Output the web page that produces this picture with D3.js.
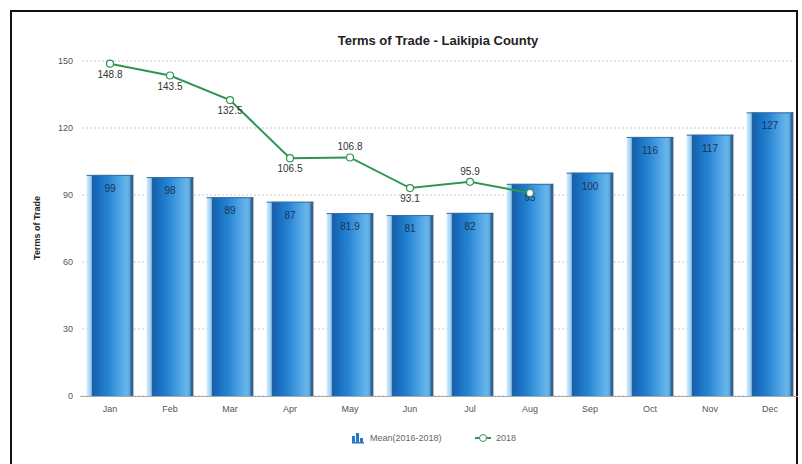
<!DOCTYPE html>
<html>
<head>
<meta charset="utf-8">
<script src="https://cdn.jsdelivr.net/npm/d3@7"></script>
<style>
  body { margin: 0; background: #fff; }
  text { font-family: "Liberation Sans", Arial, sans-serif; }
</style>
</head>
<body>
<script>
// chart data
var months = ["Jan", "Feb", "Mar", "Apr", "May", "Jun", "Jul", "Aug", "Sep", "Oct", "Nov", "Dec"];
var meanValues = [99, 98, 89, 87, 81.9, 81, 82, 95, 100, 116, 117, 127];
var line2018 = [148.8, 143.5, 132.5, 106.5, 106.8, 93.1, 95.9, 90.9];
var yTicks = [0, 30, 60, 90, 120, 150];
var legendNames = ["Mean(2016-2018)", "2018"];

var W = 802, H = 464;
var svg = d3.select("body").append("svg")
    .attr("width", W)
    .attr("height", H);

// outer frame
svg.append("rect")
    .attr("x", 11).attr("y", 11)
    .attr("width", 786).attr("height", 470)
    .attr("fill", "none")
    .attr("stroke", "#111")
    .attr("stroke-width", 2);

var x = d3.scaleBand().domain(months).range([80, 800]).paddingInner(0.22).paddingOuter(0.11);
var y = d3.scaleLinear().domain([0, 150]).range([396, 61]);

// gradient for the bars
var defs = svg.append("defs");
var grad = defs.append("linearGradient").attr("id", "barGrad")
    .attr("x1", "0%").attr("x2", "100%").attr("y1", "0%").attr("y2", "0%");
[[0, "#d6eefc"], [0.1, "#8fcaf2"], [0.12, "#2e5f8c"], [0.16, "#1463b4"], [0.45, "#2582d2"],
 [0.85, "#66b6ec"], [0.92, "#5aa6dc"], [0.95, "#2f6594"], [1, "#3b5f80"]]
    .forEach(function(s){
        grad.append("stop").attr("offset", s[0]).attr("stop-color", s[1]);
    });

// grid lines
svg.append("g").selectAll("line")
    .data(yTicks)
    .enter().append("line")
    .attr("x1", 82).attr("x2", 795)
    .attr("y1", function(d){ return y(d); })
    .attr("y2", function(d){ return y(d); })
    .attr("stroke", "#c8c8c8")
    .attr("stroke-dasharray", "2,2");

// y axis labels
svg.append("g").selectAll("text")
    .data(yTicks)
    .enter().append("text")
    .attr("x", 73)
    .attr("y", function(d){ return y(d) + 3; })
    .attr("text-anchor", "end")
    .attr("font-size", "9px")
    .attr("fill", "#555")
    .text(function(d){ return d; });

svg.append("text")
    .attr("transform", "translate(40,228) rotate(-90)")
    .attr("text-anchor", "middle")
    .attr("font-size", "9px")
    .attr("font-weight", "bold")
    .attr("fill", "#222")
    .text("Terms of Trade");

// title
svg.append("text")
    .attr("x", 438).attr("y", 45)
    .attr("text-anchor", "middle")
    .attr("font-size", "13px")
    .attr("font-weight", "bold")
    .attr("fill", "#222")
    .text("Terms of Trade - Laikipia County");

// bars
var bars = svg.append("g").selectAll("g")
    .data(meanValues)
    .enter().append("g");

bars.append("rect")
    .attr("x", function(d, i){ return x(months[i]); })
    .attr("y", function(d){ return y(d); })
    .attr("width", x.bandwidth())
    .attr("height", function(d){ return y(0) - y(d); })
    .attr("fill", "url(#barGrad)");

bars.append("line")
    .attr("x1", function(d, i){ return x(months[i]); })
    .attr("x2", function(d, i){ return x(months[i]) + x.bandwidth(); })
    .attr("y1", function(d){ return y(d) + 0.5; })
    .attr("y2", function(d){ return y(d) + 0.5; })
    .attr("stroke", "#3a6e9e");

bars.append("text")
    .attr("x", function(d, i){ return x(months[i]) + x.bandwidth() / 2; })
    .attr("y", function(d){ return y(d) + 17; })
    .attr("text-anchor", "middle")
    .attr("font-size", "10px")
    .attr("fill", "#1b3552")
    .text(function(d){ return d; });

// x axis
svg.append("line")
    .attr("x1", 80).attr("x2", 798)
    .attr("y1", y(0) + 0.5).attr("y2", y(0) + 0.5)
    .attr("stroke", "#aaa");

svg.append("g").selectAll("text")
    .data(months)
    .enter().append("text")
    .attr("x", function(d){ return x(d) + x.bandwidth() / 2; })
    .attr("y", 412)
    .attr("text-anchor", "middle")
    .attr("font-size", "9px")
    .attr("fill", "#555")
    .text(function(d){ return d; });

// 2018 line
var cx = function(d, i){ return x(months[i]) + x.bandwidth() / 2; };
var line = d3.line().x(cx).y(function(d){ return y(d); });

svg.append("path")
    .datum(line2018)
    .attr("d", line)
    .attr("fill", "none")
    .attr("stroke", "#2f9650")
    .attr("stroke-width", 2);

svg.append("g").selectAll("circle")
    .data(line2018)
    .enter().append("circle")
    .attr("cx", cx)
    .attr("cy", function(d){ return y(d); })
    .attr("r", 3.5)
    .attr("fill", "#fff")
    .attr("stroke", "#2f9650")
    .attr("stroke-width", 1.2);

// point labels; a label that would land on the bar's own label is hidden
svg.append("g").selectAll("text")
    .data(line2018)
    .enter().append("text")
    .attr("x", cx)
    .attr("y", function(d, i){
        var up = i > 0 && d >= line2018[i - 1];
        return up ? y(d) - 7 : y(d) + 14;
    })
    .attr("text-anchor", "middle")
    .attr("font-size", "10px")
    .attr("fill", "#333")
    .attr("display", function(d, i){ return d > meanValues[i] ? null : "none"; })
    .text(function(d){ return d; });

// legend
var lg = svg.append("g").attr("transform", "translate(352,438)");
[[0, 6], [4, 9], [8, 4]].forEach(function(b){
    lg.append("rect")
        .attr("x", b[0]).attr("y", 4 - b[1])
        .attr("width", 3).attr("height", b[1])
        .attr("fill", "#2a78c4");
});
lg.append("rect").attr("x", 0).attr("y", 4).attr("width", 12).attr("height", 1.5).attr("fill", "#2a78c4");
lg.append("text")
    .attr("x", 18).attr("y", 3)
    .attr("font-size", "9px")
    .attr("fill", "#666")
    .text(legendNames[0]);

lg.append("line")
    .attr("x1", 123).attr("x2", 139)
    .attr("y1", 0).attr("y2", 0)
    .attr("stroke", "#2f9650").attr("stroke-width", 2);
lg.append("circle")
    .attr("cx", 131).attr("cy", 0).attr("r", 3.5)
    .attr("fill", "#fff").attr("stroke", "#2f9650");
lg.append("text")
    .attr("x", 144).attr("y", 3)
    .attr("font-size", "9px")
    .attr("fill", "#666")
    .text(legendNames[1]);
</script>
</body>
</html>
